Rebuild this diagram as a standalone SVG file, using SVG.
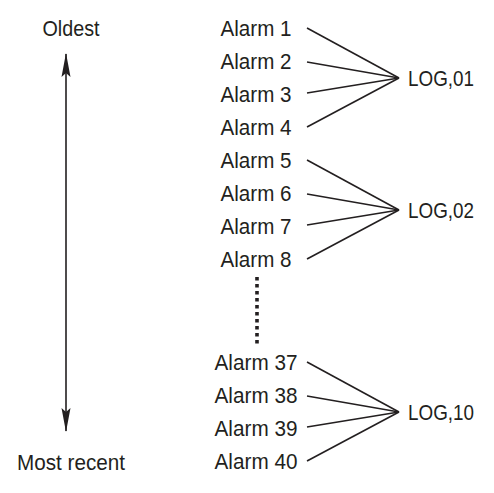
<svg xmlns="http://www.w3.org/2000/svg" width="494" height="493" viewBox="0 0 494 493">
<style>
text{font-family:"Liberation Sans",Arial,sans-serif;font-size:22px;fill:#231f20}
.a{text-anchor:middle}
.c line{stroke:#231f20;stroke-width:1.6;fill:none}
</style>
<defs>
<marker id="ah" viewBox="0 0 24 10" refX="23" refY="5" markerWidth="24" markerHeight="10" markerUnits="userSpaceOnUse" orient="auto-start-reverse">
<path d="M0,0.5 L24,5 L0,9.5 L4,5 Z" fill="#231f20"/>
</marker>
</defs>
<rect width="494" height="493" fill="#fff"/>
<g id="time-axis">
<text x="71" y="36" class="a" textLength="57" lengthAdjust="spacingAndGlyphs">Oldest</text>
<text x="71" y="470" class="a" textLength="108" lengthAdjust="spacingAndGlyphs">Most recent</text>
<line x1="66" y1="54" x2="66" y2="431" stroke="#231f20" stroke-width="1.6" marker-start="url(#ah)" marker-end="url(#ah)"/>
</g>
<g id="alarms-1-8">
<text x="256" y="36" class="a" textLength="71" lengthAdjust="spacingAndGlyphs">Alarm 1</text>
<text x="256" y="69" class="a" textLength="71" lengthAdjust="spacingAndGlyphs">Alarm 2</text>
<text x="256" y="102" class="a" textLength="71" lengthAdjust="spacingAndGlyphs">Alarm 3</text>
<text x="256" y="135" class="a" textLength="71" lengthAdjust="spacingAndGlyphs">Alarm 4</text>
<text x="256" y="168" class="a" textLength="71" lengthAdjust="spacingAndGlyphs">Alarm 5</text>
<text x="256" y="201" class="a" textLength="71" lengthAdjust="spacingAndGlyphs">Alarm 6</text>
<text x="256" y="234" class="a" textLength="71" lengthAdjust="spacingAndGlyphs">Alarm 7</text>
<text x="256" y="267" class="a" textLength="71" lengthAdjust="spacingAndGlyphs">Alarm 8</text>
</g>
<g id="ellipsis">
<line x1="257" y1="277" x2="257" y2="345" stroke="#231f20" stroke-width="3.6" stroke-dasharray="3.6 3.4"/>
</g>
<g id="alarms-37-40">
<text x="256" y="370" class="a" textLength="83" lengthAdjust="spacingAndGlyphs">Alarm 37</text>
<text x="256" y="403" class="a" textLength="83" lengthAdjust="spacingAndGlyphs">Alarm 38</text>
<text x="256" y="436" class="a" textLength="83" lengthAdjust="spacingAndGlyphs">Alarm 39</text>
<text x="256" y="469" class="a" textLength="83" lengthAdjust="spacingAndGlyphs">Alarm 40</text>
</g>
<g id="log01"><text x="408" y="86" textLength="66" lengthAdjust="spacingAndGlyphs">LOG,01</text></g>
<g id="log02"><text x="408" y="218" textLength="66" lengthAdjust="spacingAndGlyphs">LOG,02</text></g>
<g id="log10"><text x="408" y="420" textLength="66" lengthAdjust="spacingAndGlyphs">LOG,10</text></g>
<g id="connectors" class="c">
<line x1="307" y1="28" x2="399" y2="78"/>
<line x1="307" y1="62" x2="399" y2="78"/>
<line x1="307" y1="93" x2="399" y2="78"/>
<line x1="307" y1="127" x2="399" y2="78"/>
<line x1="307" y1="160" x2="399" y2="210"/>
<line x1="307" y1="194" x2="399" y2="210"/>
<line x1="307" y1="225" x2="399" y2="210"/>
<line x1="307" y1="259" x2="399" y2="210"/>
<line x1="307" y1="362" x2="399" y2="412"/>
<line x1="307" y1="396" x2="399" y2="412"/>
<line x1="307" y1="427" x2="399" y2="412"/>
<line x1="307" y1="461" x2="399" y2="412"/>
</g>
</svg>
